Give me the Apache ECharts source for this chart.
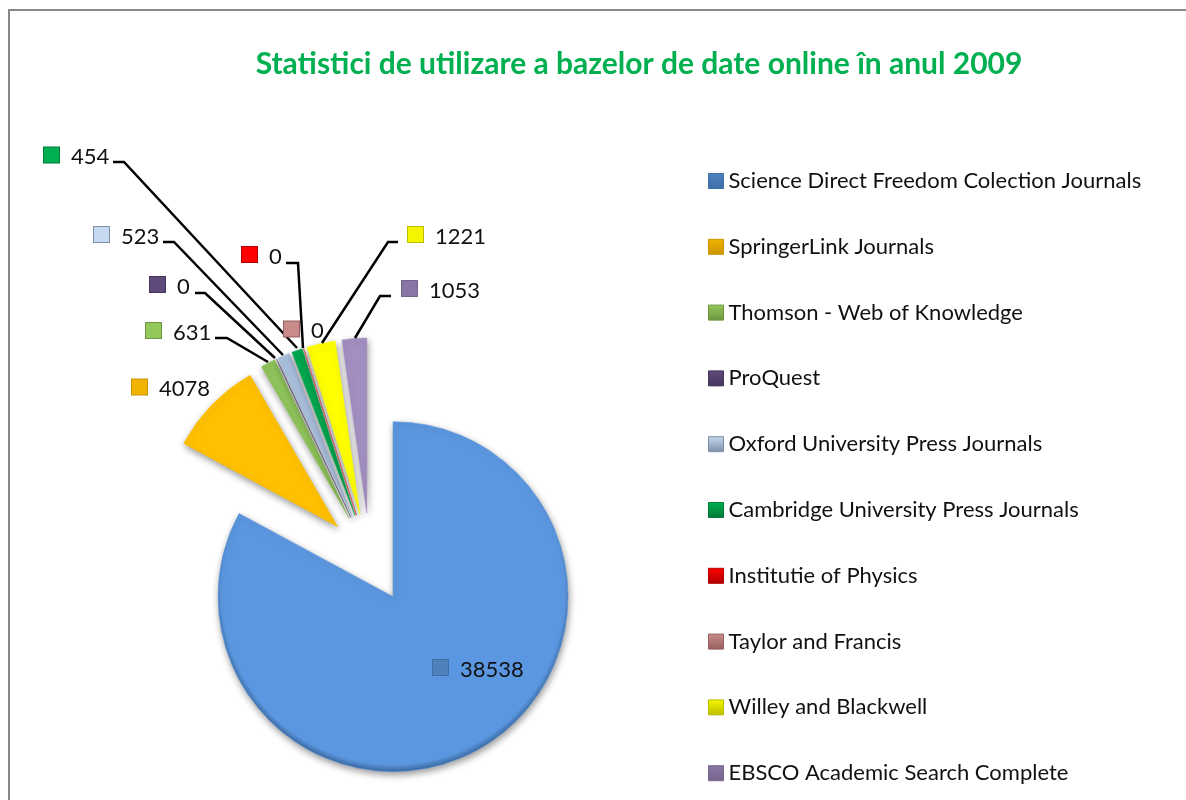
<!DOCTYPE html>
<html lang="ro">
<head>
<meta charset="UTF-8">
<title>Statistici</title>
<script src="https://cdn.jsdelivr.net/npm/echarts@6/dist/echarts.min.js"></script>
<style>
  html, body { margin: 0; padding: 0; background: #fff; overflow: hidden; }
  #main { width: 1186px; height: 800px; }
</style>
</head>
<body>
<div id="main"></div>
<script>
var titleText = 'Statistici de utilizare a bazelor de date online în anul 2009';
var names = ['Science Direct Freedom Colection Journals', 'SpringerLink Journals', 'Thomson - Web of Knowledge', 'ProQuest',
  'Oxford University Press Journals', 'Cambridge University Press Journals', 'Institutie of Physics', 'Taylor and Francis',
  'Willey and Blackwell', 'EBSCO Academic Search Complete'];
var values = [38538, 4078, 631, 0, 523, 454, 0, 0, 1221, 1053];
var sliceColors = ['#5B97E0', '#FFC000', '#8FC35A', '#604A7B', '#A9BFDD', '#00A84F', '#FF0000', '#C98A8A', '#FFFF00', '#A48FC2'];
var rimColors = ['#3F6FA8', '#C99400', '#6C9440', '#46355C', '#7E90A8', '#007A39', '#B00000', '#955F5F', '#BDBD00', '#75658C'];
var markColors = ['#4F81BD', '#F0B400', '#92C95A', '#604A7B', '#C6D9F1', '#00B050', '#FF0000', '#C98A8A', '#F5F500', '#8A76A6'];

// label anchor (marker left, marker middle) and leader line per slice, null = no line
var labelAt = [[433, 667.5], [132, 387], [146, 330.5], [150, 284.5], [94, 234.5], [44, 155], [242, 254.5], [284, 329], [408, 234.5], [402, 288.5]];
var leaders = [
  null,
  null,
  [[215, 338], [227, 338], [268, 362]],
  [[195, 293], [205, 293], [275, 358]],
  [[163, 242], [174, 242], [283, 355]],
  [[113, 162], [124, 162], [297, 348]],
  [[286, 263], [298, 263], [303, 348]],
  null,
  [[398, 242], [388, 242], [322, 343]],
  [[391, 296], [380, 296], [355, 338]]
];

var cx = 370, cy = 558, radius = 175, explode = 45;
var fontName = 'Lato, "Open Sans", sans-serif';

var myChart = echarts.init(document.getElementById('main'));

// exploded slices, no text on them
var sliceData = names.map(function (name, i) {
  return {
    name: name,
    value: values[i],
    selected: true,
    itemStyle: {
      borderColor: sliceColors[i],
      color: {
        // centre pushed up so only the lower rim gets dark
        type: 'radial', x: cx, y: cy - 4, r: radius + 3, global: true,
        colorStops: [
          { offset: 0, color: sliceColors[i] },
          { offset: 0.965, color: sliceColors[i] },
          { offset: 1, color: rimColors[i] }
        ]
      }
    }
  };
});

// same values again, invisible, only to carry labels and leader lines
// because the select state of a slice throws away the label x/y
var labelData = names.map(function (name, i) {
  var rich = { v: { fontSize: 22, fontFamily: fontName, color: '#111', padding: [4, 0, 0, 12] } };
  rich['m' + i] = { width: 15, height: 15, backgroundColor: markColors[i], borderColor: rimColors[i], borderWidth: 1 };
  return {
    name: name,
    value: values[i],
    label: { formatter: '{m' + i + '|}{v|' + values[i] + '}', rich: rich },
    labelLine: { show: leaders[i] !== null }
  };
});

myChart.setOption({
  animation: false,
  backgroundColor: '#fff',
  title: {
    text: titleText,
    left: 634,
    top: 44,
    textAlign: 'center',
    textStyle: { color: '#00B050', fontSize: 30, fontWeight: 'bold', fontFamily: fontName }
  },
  legend: {
    orient: 'vertical',
    left: 703,
    top: 164,
    itemWidth: 15,
    itemHeight: 15,
    itemGap: 41.8,
    selectedMode: false,
    icon: 'rect',
    textStyle: { fontSize: 22, lineHeight: 24, color: '#111', fontFamily: fontName },
    data: names.map(function (name, i) {
      return {
        name: name,
        itemStyle: {
          borderColor: rimColors[i],
          borderWidth: 1,
          color: {
            type: 'linear', x: 0, y: 0, x2: 0, y2: 1,
            colorStops: [{ offset: 0, color: markColors[i] }, { offset: 1, color: rimColors[i] }]
          }
        }
      };
    })
  },
  graphic: [{
    type: 'rect',
    silent: true,
    z: -1,
    shape: { x: 9, y: 10, width: 1400, height: 1000 },
    style: { fill: 'none', stroke: '#888', lineWidth: 2 }
  }],
  series: [{
    type: 'pie',
    z: 2,
    center: [cx, cy],
    radius: radius,
    startAngle: 90,
    clockwise: true,
    selectedMode: 'multiple',
    selectedOffset: explode,
    stillShowZeroSum: true,
    data: sliceData,
    itemStyle: {
      borderWidth: 0.5,
      shadowBlur: 7,
      shadowOffsetX: 1,
      shadowOffsetY: 3,
      shadowColor: 'rgba(0,0,0,0.4)'
    },
    label: { show: false },
    labelLine: { show: false }
  }, {
    type: 'pie',
    z: 3,
    center: [cx, cy],
    radius: radius,
    startAngle: 90,
    clockwise: true,
    silent: true,
    minShowLabelAngle: 0,
    avoidLabelOverlap: false,
    data: labelData,
    itemStyle: { color: 'transparent', borderWidth: 0 },
    label: { show: true, position: 'outside' },
    labelLine: { show: true, lineStyle: { color: '#000', width: 2.5 } },
    labelLayout: function (params) {
      var i = params.dataIndex;
      return {
        x: labelAt[i][0],
        y: labelAt[i][1],
        align: 'left',
        verticalAlign: 'middle',
        labelLinePoints: leaders[i] || undefined
      };
    }
  }]
});
</script>
</body>
</html>
